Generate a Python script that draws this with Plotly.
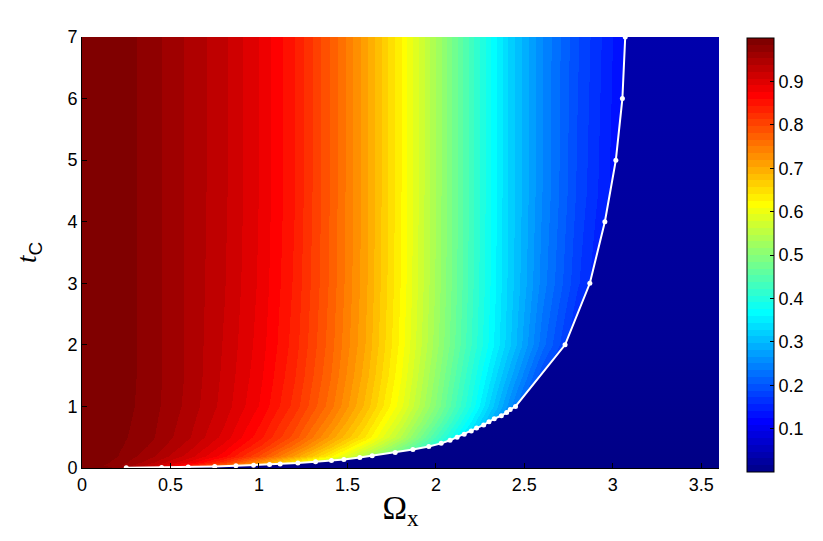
import numpy as np
import plotly.graph_objects as go

# ---------------- data ----------------
omega_grid = [0.0, 0.2, 0.4, 0.6, 0.8, 1.0, 1.2, 1.4, 1.6, 1.8, 2.0, 2.2, 2.4, 2.6, 2.8, 3.0, 3.2, 3.4, 3.6]
t_grid = [0, 0.05, 0.1, 0.2, 0.35, 0.5, 0.75, 1, 1.5, 2, 3, 4.5, 7]

z_t0_00 = [1.0, 0.985, 0.94, 0.87, 0.78, 0.68, 0.58, 0.48, 0.39, 0.31, 0.24, 0.18, 0.13, 0.09, 0.06, 0.04, 0.03, 0.02, 0.02]
z_t0_05 = [1.0, 0.975, 0.925, 0.855, 0.77, 0.675, 0.575, 0.475, 0.385, 0.305, 0.235, 0.175, 0.125, 0.09, 0.06, 0.04, 0.03, 0.02, 0.02]
z_t0_10 = [1.0, 0.98, 0.94, 0.89, 0.82, 0.73, 0.635, 0.53, 0.43, 0.34, 0.26, 0.19, 0.14, 0.1, 0.07, 0.05, 0.035, 0.025, 0.02]
z_t0_20 = [1.0, 0.985, 0.955, 0.915, 0.865, 0.795, 0.715, 0.63, 0.54, 0.45, 0.36, 0.27, 0.19, 0.12, 0.08, 0.05, 0.035, 0.025, 0.02]
z_t0_35 = [1.0, 0.988, 0.965, 0.93, 0.885, 0.83, 0.76, 0.68, 0.595, 0.5, 0.4, 0.3, 0.2, 0.12, 0.07, 0.045, 0.03, 0.025, 0.02]
z_t0_50 = [1.0, 0.99, 0.97, 0.94, 0.9, 0.85, 0.79, 0.713, 0.64, 0.545, 0.435, 0.325, 0.205, 0.1, 0.06, 0.04, 0.03, 0.02, 0.02]
z_t0_75 = [1.0, 0.992, 0.972, 0.944, 0.908, 0.862, 0.806, 0.737, 0.662, 0.573, 0.47, 0.358, 0.235, 0.12, 0.07, 0.045, 0.035, 0.025, 0.02]
z_t1_0 = [1.0, 0.994, 0.974, 0.948, 0.915, 0.874, 0.822, 0.757, 0.683, 0.598, 0.497, 0.388, 0.265, 0.15, 0.08, 0.05, 0.04, 0.03, 0.02]
z_t1_5 = [1.0, 0.995, 0.975, 0.95, 0.918, 0.88, 0.83, 0.767, 0.695, 0.61, 0.51, 0.405, 0.295, 0.19, 0.11, 0.07, 0.05, 0.04, 0.03]
z_t2_0 = [1.0, 0.995, 0.975, 0.95, 0.92, 0.884, 0.836, 0.773, 0.703, 0.618, 0.522, 0.422, 0.322, 0.225, 0.15, 0.1, 0.07, 0.05, 0.04]
z_t3_0 = [1.0, 0.995, 0.975, 0.95, 0.923, 0.888, 0.841, 0.778, 0.708, 0.623, 0.528, 0.428, 0.328, 0.243, 0.175, 0.12, 0.085, 0.06, 0.045]
z_t4_5 = [1.0, 0.995, 0.975, 0.95, 0.925, 0.89, 0.845, 0.78, 0.71, 0.625, 0.53, 0.43, 0.33, 0.25, 0.185, 0.135, 0.095, 0.065, 0.05]
z_t7_0 = [1.0, 0.995, 0.975, 0.95, 0.925, 0.89, 0.845, 0.78, 0.71, 0.625, 0.53, 0.43, 0.33, 0.25, 0.19, 0.14, 0.10, 0.07, 0.05]

boundary_t = [0.003, 0.008, 0.015, 0.025, 0.035, 0.045, 0.055, 0.065, 0.08, 0.1, 0.12, 0.14, 0.17, 0.2,
              0.25, 0.3, 0.35, 0.4, 0.45, 0.5, 0.55, 0.6, 0.65, 0.7, 0.75, 0.8, 0.85, 0.9, 0.95, 1.0,
              2, 3, 4, 5, 6, 7]
boundary_omega = [0.25, 0.45, 0.6, 0.75, 0.87, 0.97, 1.06, 1.12, 1.22, 1.32, 1.41, 1.48, 1.57, 1.64,
                  1.77, 1.87, 1.96, 2.03, 2.08, 2.12, 2.16, 2.20, 2.23, 2.27, 2.30, 2.33, 2.37, 2.40, 2.42, 2.45,
                  2.73, 2.87, 2.955, 3.017, 3.054, 3.07]

x_ticks = [0, 0.5, 1, 1.5, 2, 2.5, 3, 3.5]
x_ticktext = ["0", "0.5", "1", "1.5", "2", "2.5", "3", "3.5"]
y_ticks = [0, 1, 2, 3, 4, 5, 6, 7]
cbar_ticks = [0.1, 0.2, 0.3, 0.4, 0.5, 0.6, 0.7, 0.8, 0.9]

X_RANGE = [0, 3.6]
Y_RANGE = [0, 7]

z = [z_t0_00, z_t0_05, z_t0_10, z_t0_20, z_t0_35, z_t0_50, z_t0_75,
     z_t1_0, z_t1_5, z_t2_0, z_t3_0, z_t4_5, z_t7_0]

# ---------------- MATLAB jet(64) colormap (style) ----------------
def jet(m=64):
    n = int(np.ceil(m / 4))
    u = list(np.arange(1, n + 1) / n) + [1.0] * (n - 1) + list(np.arange(n, 0, -1) / n)
    g0 = int(np.ceil(n / 2)) - (1 if m % 4 == 1 else 0)
    J = np.zeros((m, 3))
    for i, val in enumerate(u):
        g = g0 + i + 1
        r = g + n
        b = g - n
        if 1 <= r <= m:
            J[r - 1, 0] = val
        if 1 <= g <= m:
            J[g - 1, 1] = val
        if 1 <= b <= m:
            J[b - 1, 2] = val
    return J

J = jet(64)
colorscale = []
for i, c in enumerate(J):
    col = "rgb(%d,%d,%d)" % tuple(int(round(v * 255)) for v in c)
    colorscale.append([i / 64, col])
    colorscale.append([(i + 1) / 64, col])

FONT = "Liberation Sans, Arial, sans-serif"
SERIF = "Liberation Serif, Times New Roman, serif"

fig = go.Figure()
fig.add_trace(go.Heatmap(
    x=omega_grid, y=t_grid, z=z, zmin=0, zmax=1, zsmooth="best",
    colorscale=colorscale, hoverinfo="skip",
    colorbar=dict(
        thickness=27, lenmode="pixels", len=434, y=0.494, yanchor="middle",
        x=1.044, xanchor="left", xpad=0, ypad=0,
        outlinecolor="black", outlinewidth=1,
        tickvals=cbar_ticks, ticktext=[str(v) for v in cbar_ticks],
        ticks="inside", ticklen=4, tickcolor="black",
        tickfont=dict(family=FONT, size=18, color="black"),
    ),
))

# region beyond the critical line (dark blue)
poly_x = [boundary_omega[0]] + boundary_omega + [X_RANGE[1], X_RANGE[1]]
poly_y = [Y_RANGE[0]] + boundary_t + [Y_RANGE[1], Y_RANGE[0]]
fig.add_trace(go.Scatter(
    x=poly_x, y=poly_y, mode="none", fill="toself",
    fillgradient=dict(type="vertical", colorscale=[[0, "rgb(0,0,134)"], [0.3, "rgb(0,0,150)"], [1, "rgb(0,0,172)"]]),
    hoverinfo="skip", showlegend=False,
))

fig.add_trace(go.Scatter(
    x=boundary_omega, y=boundary_t, mode="lines+markers",
    line=dict(color="white", width=2), marker=dict(color="white", size=5),
    hoverinfo="skip", showlegend=False,
))

# the page body has an 8px margin, so the figure is 8px smaller and margins shifted
fig.update_layout(
    width=815, height=533,
    margin=dict(l=74, r=104, t=29, b=73),
    paper_bgcolor="white", plot_bgcolor="white",
    showlegend=False,
    xaxis=dict(
        range=X_RANGE, tickvals=x_ticks, ticktext=x_ticktext,
        ticks="inside", ticklen=5, tickcolor="black",
        showline=True, linecolor="black", linewidth=1, mirror=False,
        showgrid=False, zeroline=False,
        tickfont=dict(family=FONT, size=18, color="black"),
        title=dict(text="Ω<sub>x</sub>", font=dict(family=SERIF, size=33, color="black"), standoff=2),
    ),
    yaxis=dict(
        range=Y_RANGE, tickvals=y_ticks,
        ticks="inside", ticklen=5, tickcolor="black",
        showline=True, linecolor="black", linewidth=1, mirror=False,
        showgrid=False, zeroline=False,
        tickfont=dict(family=FONT, size=18, color="black"),
        title=dict(text="<i>t</i><sub><span style=\"font-family:Liberation Sans\">C</span></sub>",
                   font=dict(family=SERIF, size=27, color="black"), standoff=22),
    ),
)

fig.write_html("out.html")
